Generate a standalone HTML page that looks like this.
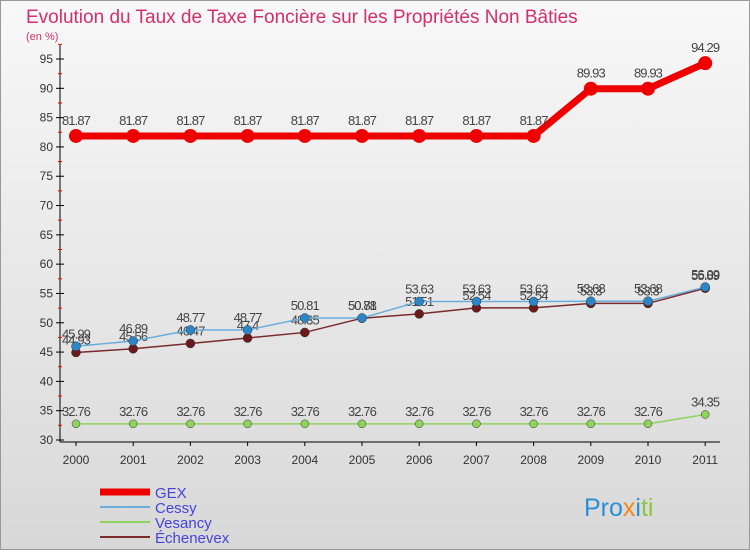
<!DOCTYPE html>
<html><head><meta charset="utf-8"><style>
body{margin:0;width:750px;height:550px;overflow:hidden;font-family:"Liberation Sans",sans-serif}
</style></head><body>
<svg width="750" height="550" xmlns="http://www.w3.org/2000/svg" font-family="Liberation Sans, sans-serif">
<defs><linearGradient id="bg" x1="0" y1="0" x2="0" y2="1"><stop offset="0" stop-color="#f8f8f8"/><stop offset="1" stop-color="#d8d8d8"/></linearGradient></defs>
<rect x="0.5" y="0.5" width="749" height="549" fill="url(#bg)" stroke="#999"/>
<text x="26" y="23" font-size="19" fill="#d2306a">Evolution du Taux de Taxe Foncière sur les Propriétés Non Bâties</text>
<text x="26" y="40" font-size="11" fill="#d2306a">(en %)</text>
<g id="axes"></g><g id="series"></g><g id="legend"></g>
<text x="584" y="516" font-size="25" fill="#2a8fd6">Pro<tspan fill="#f08a1c">x</tspan><tspan fill="#2a8fd6">i</tspan><tspan fill="#8cc63f">ti</tspan></text>
</svg>
<script>
const years=["2000","2001","2002","2003","2004","2005","2006","2007","2008","2009","2010","2011"];
const yTicks=[30,35,40,45,50,55,60,65,70,75,80,85,90,95];
const gex=[81.87,81.87,81.87,81.87,81.87,81.87,81.87,81.87,81.87,89.93,89.93,94.29];
const cessy=[45.99,46.89,48.77,48.77,50.81,50.81,53.63,53.63,53.63,53.68,53.68,56.09];
const vesancy=[32.76,32.76,32.76,32.76,32.76,32.76,32.76,32.76,32.76,32.76,32.76,34.35];
const echenevex=[44.93,45.56,46.47,47.4,48.35,50.78,51.51,52.54,52.54,53.3,53.3,55.89];
const NS="http://www.w3.org/2000/svg";
function X(i){return 76+i*57.2;}
function Y(v){return 440-(v-30)*381/65;}
function mk(p,tag,a){const e=document.createElementNS(NS,tag);for(const k in a)e.setAttribute(k,a[k]);p.appendChild(e);return e;}
const ax=document.getElementById('axes');
let l=mk(ax,'line',{x1:60,y1:45,x2:60,y2:442,stroke:'#000'});


l=mk(ax,'line',{x1:60,y1:442,x2:720,y2:442,stroke:'#000'});


yTicks.forEach(v=>{
 mk(ax,'line',{x1:56,x2:64,y1:Y(v),y2:Y(v),stroke:'#000'});
 mk(ax,'line',{x1:58,x2:62,y1:Y(v+2.5),y2:Y(v+2.5),stroke:'#e00'});
 const t=mk(ax,'text',{x:53,y:Y(v)+4,'font-size':12,'text-anchor':'end',fill:'#333'});t.textContent=v;
 
 
});
years.forEach((y,i)=>{
 mk(ax,'line',{x1:X(i),x2:X(i),y1:442,y2:446,stroke:'#000'});
 const t=mk(ax,'text',{x:X(i),y:464,'font-size':12,'text-anchor':'middle',fill:'#333'});t.textContent=y;
 
 
});
const ser=[["vesancy",vesancy,"#8fd45a","#8fd45a",1.5,4],["echenevex",echenevex,"#7a2a2a","#6b1a1a",1.5,4.5],["cessy",cessy,"#6aaedc","#2a86c8",1.5,4.5],["gex",gex,"#ee0000","#ee0000",7,7]];
const sg=document.getElementById('series');
ser.forEach(([n,d,lc,pc,w,r])=>{
 const g=mk(sg,'g',{});
 
 
 const p=mk(g,'polyline',{points:d.map((v,i)=>X(i)+','+Y(v)).join(' '),fill:'none',stroke:lc,'stroke-width':w});
 
 
 d.forEach((v,i)=>{
  const c=mk(g,'circle',{cx:X(i),cy:Y(v),r:r,fill:pc,stroke:n=='gex'?'none':'#333','stroke-width':0.5});
  
  
  const t=mk(g,'text',{x:X(i),y:Y(v)-(n=='gex'?11:8),'font-size':13,'text-anchor':'middle',fill:'#444','letter-spacing':'-0.9'});
  t.textContent=String(v);
  
  
 });
});
const lg=document.getElementById('legend');
const leg=[["GEX","#ee0000",7],["Cessy","#6aaedc",2],["Vesancy","#8fd45a",2],["Échenevex","#7a2a2a",2]];
leg.forEach(([n,c,w],i)=>{
 const y=492+i*15;
 const g=mk(lg,'g',{});
 
 
 mk(g,'line',{x1:100,x2:150,y1:y,y2:y,stroke:c,'stroke-width':w});
 const t=mk(g,'text',{x:155,y:y+6,'font-size':15,fill:'#4444dd'});t.textContent=n;
});
</script>
</body></html>
